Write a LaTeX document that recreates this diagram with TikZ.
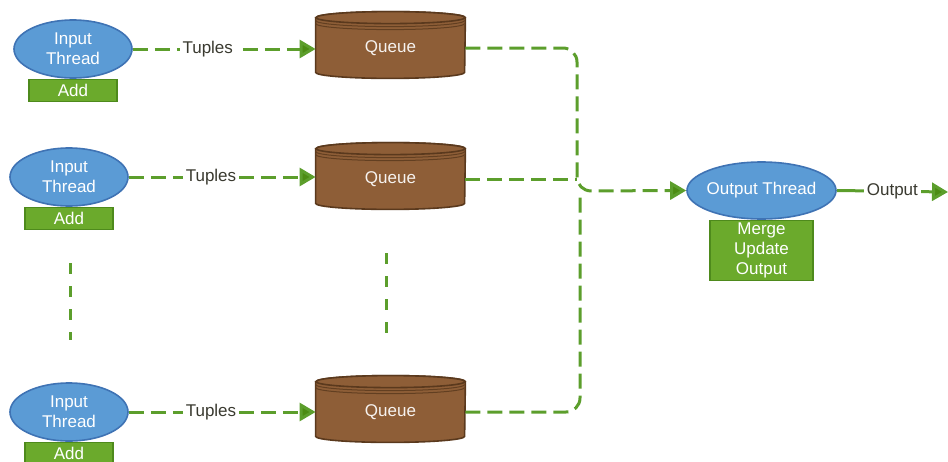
\documentclass[tikz,border=0pt]{standalone}
\usepackage{fontspec}
\setmainfont{Liberation Sans}
\usetikzlibrary{shapes.geometric,arrows.meta,positioning,calc,backgrounds}
\definecolor{threadBlue}{HTML}{5B9BD5}
\definecolor{threadEdge}{HTML}{3F73B4}
\definecolor{taskGreen}{HTML}{6BAA2C}
\definecolor{taskEdge}{HTML}{4E8A1C}
\definecolor{queueBrown}{HTML}{8E5E37}
\definecolor{queueEdge}{HTML}{5A391D}
\definecolor{flowGreen}{HTML}{5C9E2C}
\definecolor{tipGreen}{HTML}{4C8C14}
\definecolor{labelGray}{HTML}{3A3A30}

\begin{document}
\begin{tikzpicture}[
    x=0.5pt, y=-0.5pt,
    font=\fontsize{8.5}{10}\selectfont,
    thread/.style={ellipse, draw=threadEdge, line width=0.8pt, fill=threadBlue,
                   text=white, align=center, inner sep=0pt,
                   minimum width=59pt, minimum height=29pt},
    task/.style={rectangle, draw=taskEdge, line width=0.6pt, fill=taskGreen,
                 text=white, align=center, inner sep=0pt,
                 minimum width=44pt, minimum height=11pt},
    queue/.style={rectangle, inner sep=0pt, text=white!92!queueBrown,
                  minimum width=74.5pt, minimum height=33pt},
    flow/.style={draw=flowGreen, line width=1.5pt, dash pattern=on 7.5pt off 3.5pt},
    arrow/.style={flow, -{Triangle[length=8pt, width=9pt, fill=tipGreen]}},
    solidarrow/.style={draw=flowGreen, line width=1.5pt,
                       -{Triangle[length=8pt, width=9pt, fill=tipGreen]}},
    dots/.style={draw=flowGreen, line width=1.5pt, dash pattern=on 5.5pt off 6pt},
    tag/.style={fill=white, text=labelGray, inner sep=1.5pt},
    queuebody/.style={draw=queueEdge, line width=0.8pt, fill=queueBrown},
    rim/.style={draw=queueEdge!85!queueBrown, line width=0.5pt},
]
    \useasboundingbox (0,0) rectangle (948,461);

    % input side
    \node[thread] (in1) at (73,49) {Input\\Thread};
    \node[task, below=0pt of in1] (add1) {Add};
    \node[thread] (in2) at (69,177) {Input\\Thread};
    \node[task, below=0pt of in2] (add2) {Add};
    \node[thread] (in3) at (69,412) {Input\\Thread};
    \node[task, below=0pt of in3] (add3) {Add};

    % queues
    \node[queue] (q1) at (390.5,48) {Queue};
    \node[queue] (q2) at (390.5,179) {Queue};
    \node[queue] (q3) at (390.5,412) {Queue};
    \begin{pgfonlayer}{background}
    \foreach \q in {q1,q2,q3}{
        \path[queuebody] ($(\q.north west)+(0,3)$) -- ($(\q.south west)+(0,-9)$)
            arc[start angle=180, end angle=0, x radius=74.5, y radius=6]
            -- ($(\q.north east)+(0,3)$)
            arc[start angle=0, end angle=-180, x radius=74.5, y radius=6] -- cycle;
        \path[queuebody] ($(\q.north)+(0,3)$) ellipse [x radius=74.5, y radius=6];
        \path[rim] ($(\q.north west)+(0,6)$)
            arc[start angle=180, end angle=0, x radius=74.5, y radius=6];
        \path[rim] ($(\q.north west)+(0,9)$)
            arc[start angle=180, end angle=0, x radius=74.5, y radius=6];
    }
    \end{pgfonlayer}

    % output side
    \node[thread, minimum width=74.5pt, minimum height=28.5pt, inner xsep=-3pt]
        (out) at (761.5,190.5) {Output Thread};
    \node[task, below=0pt of out, minimum width=51.5pt, minimum height=30pt]
        (ops) {Merge\\Update\\Output};
    \coordinate (join) at (577,191);
    \coordinate (join3) at (580,196);
    \coordinate (sink) at (948,192);

    \draw[arrow] (in1.east) -- node[tag, pos=0.41] {Tuples} (in1.east -| q1.west);
    \draw[arrow] (in2.east) -- node[tag, pos=0.44] {Tuples} (in2.east -| q2.west);
    \draw[arrow] (in3.east) -- node[tag, pos=0.44] {Tuples} (in3.east -| q3.west);

    \draw[arrow, rounded corners=7pt] (q1.east) -| (join) -- (out.west);
    \draw[flow] (q2.east) -- (q2.east -| join);
    \draw[flow, rounded corners=7pt] (q3.east) -| (join3);
    \draw[solidarrow] (out.east) -- node[tag] {Output} (sink);

    % more threads
    \draw[dots] (70,263) -- (70,340);
    \draw[dots] (386,253) -- (386,334);
\end{tikzpicture}
\end{document}
